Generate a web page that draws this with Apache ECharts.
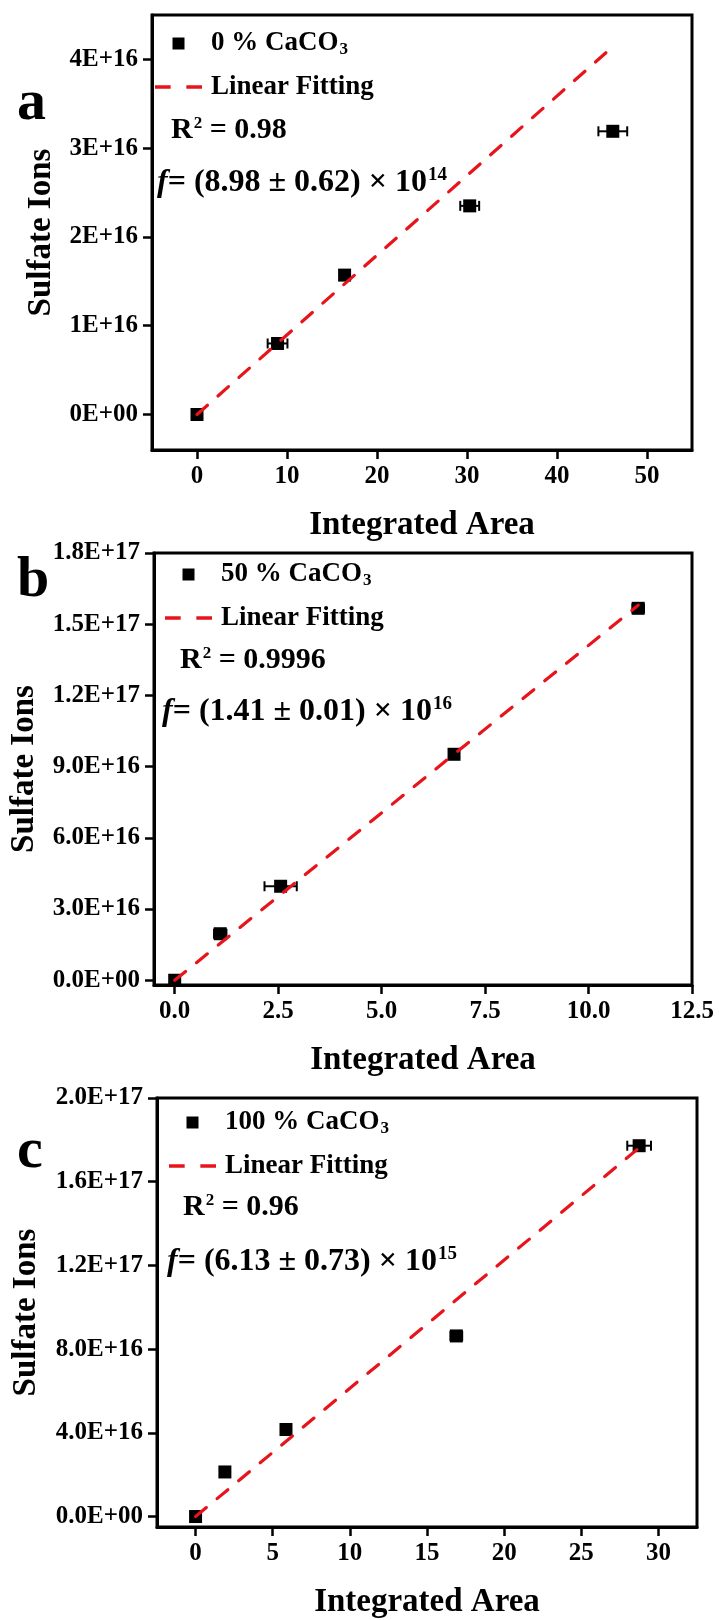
<!DOCTYPE html>
<html>
<head>
<meta charset="utf-8">
<script src="https://cdn.jsdelivr.net/npm/echarts@6/dist/echarts.min.js"></script>
<style>
  html, body { margin: 0; padding: 0; background: #fff; }
  #chart { width: 719px; height: 1620px; }
</style>
</head>
<body>
<div id="chart"></div>
<script>
// ---- Panel a: 0 % CaCO3 ----
const areaA = [0, 8.95, 16.4, 30.3, 46.2];
const ionsA = [0, 0.80e16, 1.57e16, 2.35e16, 3.19e16];
const areaErrA = [0.2, 1.1, 0.4, 1.05, 1.6];
const fitA = [[0, 0], [45.6, 4.09e16]];
const xTicksA = [0, 10, 20, 30, 40, 50];
const xLabelsA = ['0', '10', '20', '30', '40', '50'];
const yTicksA = [0, 1e16, 2e16, 3e16, 4e16];
const yLabelsA = ['0E+00', '1E+16', '2E+16', '3E+16', '4E+16'];
const legendA = ['0 % CaCO3', 'Linear Fitting'];

// ---- Panel b: 50 % CaCO3 ----
const areaB = [0, 1.1, 2.56, 6.75, 11.2];
const ionsB = [0, 1.96e16, 3.96e16, 9.52e16, 1.567e17];
const areaErrB = [0.05, 0.15, 0.39, 0.08, 0.14];
const fitB = [[0, 0], [11.2, 1.58e17]];
const xTicksB = [0, 2.5, 5, 7.5, 10, 12.5];
const xLabelsB = ['0.0', '2.5', '5.0', '7.5', '10.0', '12.5'];
const yTicksB = [0, 3e16, 6e16, 9e16, 1.2e17, 1.5e17, 1.8e17];
const yLabelsB = ['0.0E+00', '3.0E+16', '6.0E+16', '9.0E+16', '1.2E+17', '1.5E+17', '1.8E+17'];
const legendB = ['50 % CaCO3', 'Linear Fitting'];

// ---- Panel c: 100 % CaCO3 ----
const areaC = [0, 1.9, 5.86, 16.9, 28.75];
const ionsC = [0, 2.13e16, 4.16e16, 8.63e16, 1.772e17];
const areaErrC = [0.1, 0.2, 0.2, 0.38, 0.77];
const fitC = [[0, 0], [28.8, 1.765e17]];
const xTicksC = [0, 5, 10, 15, 20, 25, 30];
const xLabelsC = ['0', '5', '10', '15', '20', '25', '30'];
const yTicksC = [0, 4e16, 8e16, 1.2e17, 1.6e17, 2.0e17];
const yLabelsC = ['0.0E+00', '4.0E+16', '8.0E+16', '1.2E+17', '1.6E+17', '2.0E+17'];
const legendC = ['100 % CaCO3', 'Linear Fitting'];

// Fit annotations
const r2Texts = ['0.98', '0.9996', '0.96'];
const fitSlopes = ['8.98', '1.41', '6.13'];
const fitErrs = ['0.62', '0.01', '0.73'];
const fitExps = ['14', '16', '15'];
const panelLetters = ['a', 'b', 'c'];

const FONT = '"Liberation Serif", "Times New Roman", Times, serif';
const RED = '#e8141c';

const panels = [
  { area: areaA, ions: ionsA, err: areaErrA, fit: fitA, xt: xTicksA, xl: xLabelsA, yt: yTicksA, yl: yLabelsA, legend: legendA,
    grid: { left: 152, top: 15, width: 540, height: 435 }, xMin: -5, xMax: 55, yMin: -4e15, yMax: 4.5e16,
    yNameGap: 94, legendTop: 30, legendLeft: 155,
    letter: [17, 104], r2: [171, 130], f: [157, 183] },
  { area: areaB, ions: ionsB, err: areaErrB, fit: fitB, xt: xTicksB, xl: xLabelsB, yt: yTicksB, yl: yLabelsB, legend: legendB,
    grid: { left: 152, top: 553, width: 540, height: 432 }, xMin: -0.5, xMax: 12.5, yMin: -2e15, yMax: 1.8e17,
    yNameGap: 113, legendTop: 561, legendLeft: 165,
    letter: [17, 581], r2: [180, 660], f: [162, 712] },
  { area: areaC, ions: ionsC, err: areaErrC, fit: fitC, xt: xTicksC, xl: xLabelsC, yt: yTicksC, yl: yLabelsC, legend: legendC,
    grid: { left: 157, top: 1098, width: 540, height: 434 }, xMin: -2.5, xMax: 32.5, yMin: -5e15, yMax: 2.0e17,
    yNameGap: 114, legendTop: 1109, legendLeft: 169,
    letter: [17, 1152], r2: [183, 1207], f: [167, 1262] }
];

function labelFor(ticks, labels) {
  return function (v) {
    for (let i = 0; i < ticks.length; i++) {
      if (Math.abs(ticks[i] - v) <= Math.abs(ticks[i]) * 1e-9 + 1e-9) return labels[i];
    }
    return '';
  };
}

function errorBar(params, api) {
  const x = api.value(0), y = api.value(1), e = api.value(2);
  const lo = api.coord([x - e, y]);
  const hi = api.coord([x + e, y]);
  const cap = 5;
  const st = { stroke: '#000', lineWidth: 2 };
  return {
    type: 'group',
    children: [
      { type: 'line', shape: { x1: lo[0], y1: lo[1], x2: hi[0], y2: hi[1] }, style: st },
      { type: 'line', shape: { x1: lo[0], y1: lo[1] - cap, x2: lo[0], y2: lo[1] + cap }, style: st },
      { type: 'line', shape: { x1: hi[0], y1: hi[1] - cap, x2: hi[0], y2: hi[1] + cap }, style: st }
    ]
  };
}

const tickLabelStyle = { color: '#000', fontFamily: FONT, fontWeight: 'bold', fontSize: 25 };
const nameStyle = { color: '#000', fontFamily: FONT, fontWeight: 'bold', fontSize: 33 };

// Legend icons: a filled square for the data, two short dashes for the fit line
const SQUARE_ICON = 'path://M0 0H10V10H0Z';
const DASH_ICON = 'path://M0 0H15V3.4H0Z M30 0H45V3.4H30Z';

const option = {
  animation: false,
  backgroundColor: '#fff',
  grid: [], xAxis: [], yAxis: [], series: [], legend: [], graphic: []
};

panels.forEach((p, i) => {
  option.grid.push(Object.assign({ show: true, borderColor: '#000', borderWidth: 3, containLabel: false }, p.grid));
  option.xAxis.push({
    type: 'value', gridIndex: i, min: p.xMin, max: p.xMax,
    axisLine: { show: true, onZero: false, lineStyle: { color: '#000', width: 3 } },
    axisTick: { show: true, inside: false, length: 9, customValues: p.xt, lineStyle: { color: '#000', width: 2.5 } },
    axisLabel: Object.assign({ customValues: p.xt, formatter: labelFor(p.xt, p.xl), margin: 14 }, tickLabelStyle),
    splitLine: { show: false },
    name: 'Integrated Area', nameLocation: 'middle', nameGap: 59, nameTextStyle: nameStyle
  });
  option.yAxis.push({
    type: 'value', gridIndex: i, min: p.yMin, max: p.yMax,
    axisLine: { show: true, onZero: false, lineStyle: { color: '#000', width: 3 } },
    axisTick: { show: true, inside: false, length: 9, customValues: p.yt, lineStyle: { color: '#000', width: 2.5 } },
    axisLabel: Object.assign({ customValues: p.yt, formatter: labelFor(p.yt, p.yl), margin: 14 }, tickLabelStyle),
    splitLine: { show: false },
    name: 'Sulfate Ions', nameLocation: 'middle', nameRotate: 90, nameGap: p.yNameGap, nameTextStyle: nameStyle
  });

  option.series.push({
    type: 'custom', xAxisIndex: i, yAxisIndex: i, z: 2,
    renderItem: errorBar,
    data: p.area.map((x, k) => [x, p.ions[k], p.err[k]])
  });
  option.series.push({
    type: 'scatter', name: p.legend[0], xAxisIndex: i, yAxisIndex: i, z: 3,
    symbol: 'rect', symbolSize: 13, itemStyle: { color: '#000', opacity: 1 },
    data: p.area.map((x, k) => [x, p.ions[k]])
  });
  option.series.push({
    type: 'line', name: p.legend[1], xAxisIndex: i, yAxisIndex: i, z: 5,
    symbol: 'none', itemStyle: { color: RED },
    lineStyle: { color: RED, width: 3.2, type: [14, 14], cap: 'round' },
    data: p.fit
  });

  option.legend.push({
    left: p.legendLeft, top: p.legendTop, orient: 'vertical', selectedMode: false,
    itemWidth: 47, itemHeight: 12, itemGap: 15, padding: 0,
    data: [
      { name: p.legend[0], icon: SQUARE_ICON, itemStyle: { color: '#000' } },
      { name: p.legend[1], icon: DASH_ICON, itemStyle: { color: RED, borderWidth: 0 } }
    ],
    formatter: n => n.endsWith('CO3') ? '{t|' + n.slice(0, -1) + '}{s|3}' : '{t|' + n + '}',
    textStyle: {
      padding: [0, 0, 0, 4],
      rich: {
        t: { fontFamily: FONT, fontWeight: 'bold', fontSize: 27, color: '#000', lineHeight: 30 },
        s: { fontFamily: FONT, fontWeight: 'bold', fontSize: 17, color: '#000', lineHeight: 16, verticalAlign: 'bottom', padding: [0, 0, 0, 1] }
      }
    }
  });

  option.graphic.push({
    type: 'text', x: p.letter[0], y: p.letter[1],
    style: { text: panelLetters[i], font: 'bold 58px ' + FONT, fill: '#000', verticalAlign: 'middle' }
  });
  option.graphic.push({
    type: 'text', x: p.r2[0], y: p.r2[1],
    style: {
      text: '{r|R}{sup|2}{r| = ' + r2Texts[i] + '}', verticalAlign: 'middle',
      rich: {
        r: { font: 'bold 30px ' + FONT, fill: '#000', lineHeight: 32 },
        sup: { font: 'bold 17px ' + FONT, fill: '#000', lineHeight: 17, verticalAlign: 'top', padding: [1, 0, 0, 1] }
      }
    }
  });
  option.graphic.push({
    type: 'text', x: p.f[0], y: p.f[1],
    style: {
      text: '{i|f}{n|= (' + fitSlopes[i] + ' \u00b1 ' + fitErrs[i] + ') \u00d7 10}{sup|' + fitExps[i] + '}',
      verticalAlign: 'middle',
      rich: {
        i: { font: 'italic bold 32px ' + FONT, fill: '#000', lineHeight: 34 },
        n: { font: 'bold 32px ' + FONT, fill: '#000', lineHeight: 34 },
        sup: { font: 'bold 19px ' + FONT, fill: '#000', lineHeight: 19, verticalAlign: 'top', padding: [0, 0, 0, 1] }
      }
    }
  });
});

const chart = echarts.init(document.getElementById('chart'), null, { renderer: 'canvas' });
chart.setOption(option);
</script>
</body>
</html>
